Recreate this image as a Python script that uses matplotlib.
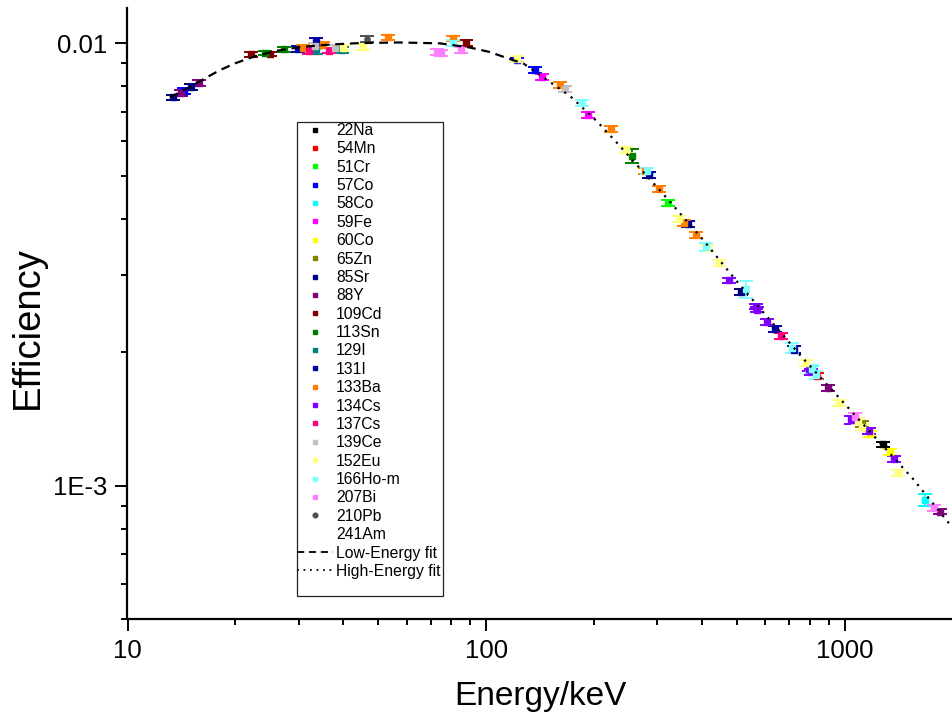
import matplotlib
matplotlib.use("Agg")
import matplotlib.pyplot as plt
from matplotlib.lines import Line2D
from matplotlib.patches import Rectangle
from matplotlib.ticker import FixedLocator, FixedFormatter, LogLocator, NullFormatter
import numpy as np

plt.rcParams['font.family'] = ['Liberation Sans', 'DejaVu Sans']

# ---------------- data ----------------
nuclides = ['22Na', '54Mn', '51Cr', '57Co', '58Co', '59Fe', '60Co', '65Zn', '85Sr', '88Y',
            '109Cd', '113Sn', '129I', '131I', '133Ba', '134Cs', '137Cs', '139Ce', '152Eu',
            '166Ho-m', '207Bi', '210Pb', '241Am']
colors = ['#000000', '#FF0000', '#00FF00', '#0000FF', '#00FFFF', '#FF00FF', '#FFFF00', '#808000',
          '#000080', '#800080', '#800000', '#008000', '#008080', '#0000A0', '#FF8000', '#8000FF',
          '#FF0080', '#C0C0C0', '#FFFF80', '#80FFFF', '#FF80FF', '#505050', '#FFFFFF']

E_22Na = [1274.5];                     eff_22Na = [0.00124];                    rel_22Na = [0.015]
E_54Mn = [834.8];                      eff_54Mn = [0.00177];                    rel_54Mn = [0.015]
E_51Cr = [320.1];                      eff_51Cr = [0.00436];                    rel_51Cr = [0.015]
E_57Co = [14.4, 122.1, 136.5];         eff_57Co = [0.00780, 0.00915, 0.00869];  rel_57Co = [0.015, 0.012, 0.015]
E_58Co = [810.8, 1674.7];              eff_58Co = [0.00183, 0.000928];          rel_58Co = [0.02, 0.032]
E_59Fe = [142.6, 192.3];               eff_59Fe = [0.00839, 0.00687];           rel_59Fe = [0.017, 0.015]
E_60Co = [1173.2, 1332.5];             eff_60Co = [0.00131, 0.00119];           rel_60Co = [0.015, 0.015]
E_65Zn = [1115.5];                     eff_65Zn = [0.00138];                    rel_65Zn = [0.015]
E_85Sr = [13.4, 15.0, 514.0];          eff_85Sr = [0.00754, 0.00797, 0.00274];  rel_85Sr = [0.012, 0.015, 0.015]
E_88Y = [14.1, 15.8, 898.0, 1836.1];   eff_88Y = [0.00772, 0.00813, 0.00166, 0.000874]; rel_88Y = [0.015, 0.015, 0.015, 0.012]
E_109Cd = [22.1, 24.9, 88.0];          eff_109Cd = [0.00943, 0.00945, 0.01000]; rel_109Cd = [0.012, 0.012, 0.015]
E_113Sn = [24.2, 27.3, 255.1];         eff_113Sn = [0.00950, 0.00968, 0.00555]; rel_113Sn = [0.012, 0.012, 0.037]
E_129I = [33.6, 39.6];                 eff_129I = [0.00960, 0.00964];           rel_129I = [0.015, 0.015]
E_131I = [29.8, 33.6, 284.3, 364.5, 637.0, 722.9]
eff_131I = [0.00970, 0.01007, 0.00503, 0.00390, 0.00226, 0.00203]
rel_131I = [0.015, 0.02, 0.015, 0.015, 0.015, 0.02]
E_133Ba = [30.9, 35.0, 53.2, 81.0, 160.6, 223.2, 276.4, 302.9, 356.0, 383.8]
eff_133Ba = [0.00975, 0.00990, 0.01030, 0.01025, 0.00804, 0.00639, 0.00514, 0.00469, 0.00393, 0.00368]
rel_133Ba = [0.015, 0.015, 0.015, 0.012, 0.015, 0.017, 0.015, 0.015, 0.015, 0.015]
E_134Cs = [475.4, 563.2, 569.3, 604.7, 795.9, 801.9, 1038.6, 1167.9, 1365.2]
eff_134Cs = [0.00291, 0.00254, 0.00250, 0.00234, 0.00184, 0.00181, 0.00141, 0.00133, 0.00115]
rel_134Cs = [0.015, 0.015, 0.015, 0.015, 0.015, 0.015, 0.02, 0.015, 0.015]
E_137Cs = [32.0, 36.4, 661.7];         eff_137Cs = [0.00960, 0.00962, 0.00218]; rel_137Cs = [0.015, 0.015, 0.015]
E_139Ce = [33.4, 37.8, 165.9];         eff_139Ce = [0.00985, 0.00975, 0.00786]; rel_139Ce = [0.015, 0.015, 0.015]
E_152Eu = [39.9, 45.4, 121.8, 244.7, 344.3, 411.1, 444.0, 778.9, 964.1, 1085.8, 1112.1, 1408.0]
eff_152Eu = [0.00975, 0.00980, 0.00920, 0.00573, 0.00401, 0.00345, 0.00318, 0.00189, 0.00154, 0.00140, 0.00136, 0.00107]
rel_152Eu = [0.015] * 12
E_166Ho = [80.6, 184.4, 280.5, 410.9, 529.8, 711.7, 810.3, 830.6]
eff_166Ho = [0.01000, 0.00733, 0.00515, 0.00346, 0.00278, 0.00205, 0.00184, 0.00178]
rel_166Ho = [0.015, 0.015, 0.015, 0.02, 0.043, 0.025, 0.02, 0.02]
E_207Bi = [72.8, 75.0, 84.9, 1063.7, 1770.2]
eff_207Bi = [0.00956, 0.00948, 0.00964, 0.00143, 0.00089]
rel_207Bi = [0.015, 0.015, 0.015, 0.02, 0.015]
E_210Pb = [46.5];                      eff_210Pb = [0.0102];                    rel_210Pb = [0.015]
E_241Am = [26.3, 59.5];                eff_241Am = [0.0096, 0.0100];            rel_241Am = [0.015, 0.015]

# fitted curves
low_fit_E = [13.13, 14.94, 16.44, 18.11, 19.94, 22.42, 25.77, 30.26, 36.68, 44.46, 57.47, 74.30,
             90.06, 102.4, 111.5, 128.2]
low_fit_eff = [0.007541, 0.007957, 0.008324, 0.008689, 0.008998, 0.009312, 0.009593, 0.009794,
               0.009922, 0.010000, 0.010030, 0.009984, 0.009769, 0.009543, 0.009312, 0.008960]
high_fit_E = [128.2, 150.5, 171.2, 203.1, 228.4, 265.3, 311.4, 402.6, 493.4, 610.9, 764.6, 947.6,
              1211.6, 1549.4, 1982.0, 2000.0]
high_fit_eff = [0.008942, 0.008165, 0.007592, 0.006666, 0.006021, 0.005260, 0.004560, 0.003589,
                0.002930, 0.002392, 0.001938, 0.001603, 0.001288, 0.001035, 0.000809, 0.000804]

x_ticks = [10, 100, 1000]
x_tick_labels = ['10', '100', '1000']
y_ticks = [1e-3, 1e-2]
y_tick_labels = ['1E-3', '0.01']

series_E = [E_22Na, E_54Mn, E_51Cr, E_57Co, E_58Co, E_59Fe, E_60Co, E_65Zn, E_85Sr, E_88Y,
            E_109Cd, E_113Sn, E_129I, E_131I, E_133Ba, E_134Cs, E_137Cs, E_139Ce, E_152Eu,
            E_166Ho, E_207Bi, E_210Pb, E_241Am]
series_eff = [eff_22Na, eff_54Mn, eff_51Cr, eff_57Co, eff_58Co, eff_59Fe, eff_60Co, eff_65Zn,
              eff_85Sr, eff_88Y, eff_109Cd, eff_113Sn, eff_129I, eff_131I, eff_133Ba, eff_134Cs,
              eff_137Cs, eff_139Ce, eff_152Eu, eff_166Ho, eff_207Bi, eff_210Pb, eff_241Am]
series_rel = [rel_22Na, rel_54Mn, rel_51Cr, rel_57Co, rel_58Co, rel_59Fe, rel_60Co, rel_65Zn,
              rel_85Sr, rel_88Y, rel_109Cd, rel_113Sn, rel_129I, rel_131I, rel_133Ba, rel_134Cs,
              rel_137Cs, rel_139Ce, rel_152Eu, rel_166Ho, rel_207Bi, rel_210Pb, rel_241Am]

# ---------------- figure ----------------
W, H = 953, 723
fig = plt.figure(figsize=(W / 100, H / 100), dpi=100)
ax = fig.add_axes([127.5 / W, 104 / H, (W - 127.5) / W, 611 / H])
ax.set_xscale('log')
ax.set_yscale('log')

handles = []
for name, c, E, eff, rel in zip(nuclides, colors, series_E, series_eff, series_rel):
    eff = np.array(eff)
    err = eff * np.array(rel)
    mk = 'o' if name == '210Pb' else 's'
    z = 1 if name == '241Am' else 2
    ax.errorbar(E, eff, yerr=err, fmt=mk, ms=3.8, color=c, ecolor=c, mec=c, mfc=c,
                elinewidth=1.3, capsize=5, capthick=1.4, zorder=z)
    handles.append(Line2D([], [], ls='none', marker=mk, ms=3.4, color=c, mec=c, mfc=c))

dash_style = (0, (4.0, 2.6))
dot_style = (0, (1.0, 2.6))
ax.plot(low_fit_E, low_fit_eff, color='black', lw=1.6, ls=dash_style, zorder=4)
ax.plot(high_fit_E, high_fit_eff, color='black', lw=1.6, ls=dot_style, zorder=4)
handles.append(Line2D([], [], color='black', lw=1.3, ls=dash_style))
handles.append(Line2D([], [], color='black', lw=1.3, ls=dot_style))
labels = nuclides + ['Low-Energy fit', 'High-Energy fit']

ax.set_xlim(10, 2000)
ax.set_ylim(5e-4, 0.012)

ax.xaxis.set_major_locator(FixedLocator(x_ticks))
ax.xaxis.set_major_formatter(FixedFormatter(x_tick_labels))
ax.yaxis.set_major_locator(FixedLocator(y_ticks))
ax.yaxis.set_major_formatter(FixedFormatter(y_tick_labels))
ax.xaxis.set_minor_locator(LogLocator(base=10, subs=np.arange(2, 10)))
ax.yaxis.set_minor_locator(LogLocator(base=10, subs=np.arange(2, 10)))
ax.xaxis.set_minor_formatter(NullFormatter())
ax.yaxis.set_minor_formatter(NullFormatter())

ax.tick_params(which='major', direction='out', length=8.5, width=1.4, labelsize=18.5, pad=6)
ax.tick_params(which='minor', direction='out', length=4.3, width=1.4)
for s in ['top', 'right']:
    ax.spines[s].set_visible(False)
for s in ['left', 'bottom']:
    ax.spines[s].set_linewidth(1.6)

fig.text(28 / W, 1 - 327.5 / H, 'Efficiency', rotation=90, ha='center', va='center', fontsize=27.5)
fig.text(540 / W, 1 - 697 / H, 'Energy/keV', ha='center', va='center', fontsize=24)

# legend
fig.patches.append(Rectangle((297 / W, 1 - 596 / H), 146 / W, 474 / H, transform=fig.transFigure,
                             fill=False, edgecolor='#222222', lw=0.9, zorder=5))
leg = fig.legend(handles, labels, loc='upper left', bbox_to_anchor=(297 / W, 1 - 123 / H),
                 bbox_transform=fig.transFigure, frameon=False, borderpad=0, borderaxespad=0,
                 handlelength=2.3, handletextpad=0.2, labelspacing=0.215, fontsize=11.3)

fig.savefig('out.png', dpi=100)
